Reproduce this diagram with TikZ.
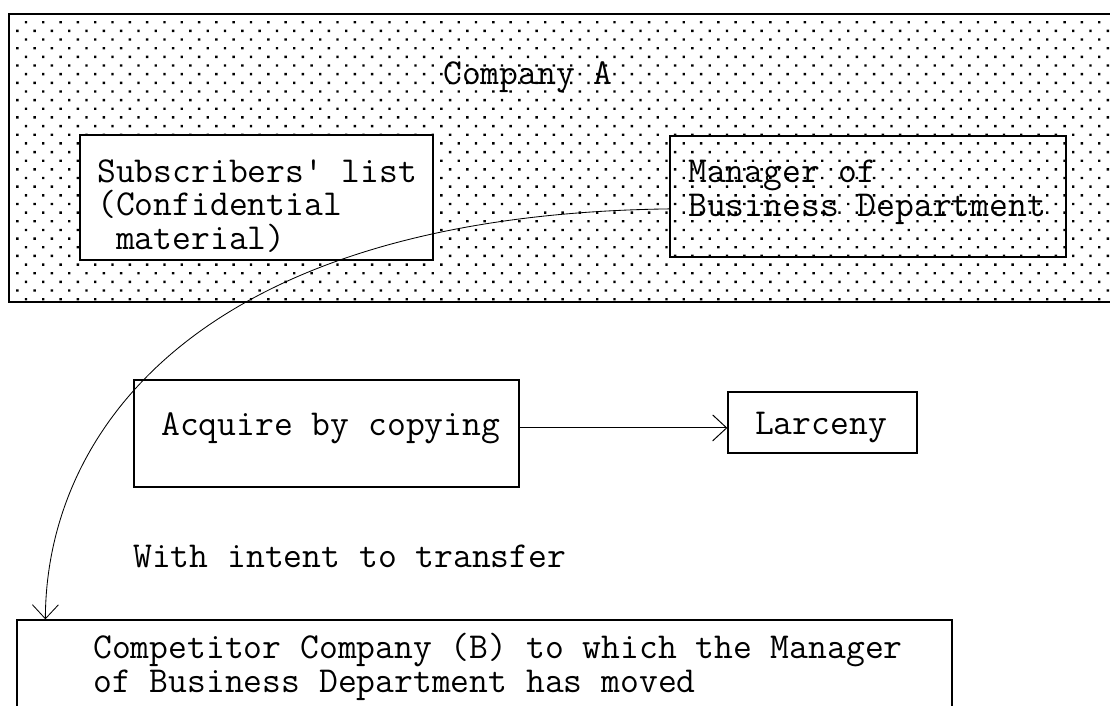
\documentclass[tikz,border=0pt]{standalone}
\usepackage{fontspec}
\usetikzlibrary{arrows.meta, patterns.meta}

\tikzset{
  box/.style = {draw, line width = 0.9pt, inner sep = 0pt},
  txt/.style = {font = \ttfamily\fontsize{26}{24}\selectfont, align = left, inner sep = 0pt, anchor = west},
  barb/.style = {-{Straight Barb[length = 3.5mm, width = 6.5mm]}, line width = 0.7pt}
}

\begin{document}
\begin{tikzpicture}[x = 0.25mm, y = -0.25mm]
  \useasboundingbox (0, 0) rectangle (1110, 706);

  % boxes
  \node[box, pattern = {Dots[distance = 3.06mm, angle = 45, radius = 1.2pt]}, minimum width = 276mm, minimum height = 72mm] (companyA) at (561, 158) {};
  \node[box, fill = white, minimum width = 88.25mm, minimum height = 31.25mm] (subs) at (256.5, 197.5) {};
  \node[box, minimum width = 99mm, minimum height = 30.25mm] (manager) at (868, 196.5) {};
  \node[box, minimum width = 96.25mm, minimum height = 26.75mm] (acquire) at (326.5, 433.5) {};
  \node[box, minimum width = 47.25mm, minimum height = 15.25mm] (larceny) at (822.5, 422.5) {};
  \node[box, minimum width = 233.75mm, minimum height = 30mm] (competitor) at (484.5, 680) {};

  % texts
  \node[txt, anchor = center] (companyText) at (528, 77) {Company A};
  \node[txt] (subsText) at (97, 206) {Subscribers\textquotesingle{} list\\(Confidential\\~material)};
  \node[txt] (managerText) at (688, 192) {Manager of\\Business Department};
  \node[txt] (acquireText) at (161, 428) {Acquire by copying};
  \node[txt, anchor = center] (larcenyText) at (821, 428) {Larceny};
  \node[txt] (intent) at (133, 556) {With intent to transfer};
  \node[txt] (competitorText) at (93, 667) {Competitor Company (B) to which the Manager\\of Business Department has moved};

  % arrows
  \coordinate (acquireOut) at ([yshift = 1.4mm]acquire.east);
  \draw[barb] (acquireOut) -- (acquireOut -| larceny.west);
  \coordinate (managerOut) at ([yshift = -3.1mm]manager.west);
  \coordinate (competitorIn) at ([xshift = 7.25mm]competitor.north west);
  \draw[barb, line width = 0.6pt] (managerOut) .. controls (200, 215) and (46, 430) .. (competitorIn);

\end{tikzpicture}
\end{document}
